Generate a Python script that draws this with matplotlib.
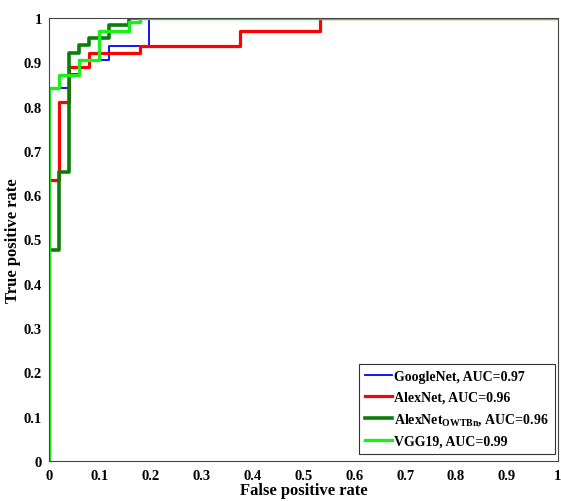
import numpy as np
import matplotlib
matplotlib.use('Agg')
import matplotlib.pyplot as plt

# ── Estilo ────────────────────────────────────────────────────────────────
plt.rcParams.update({
    'font.family': 'Liberation Serif',
    'font.weight': 'bold',
    'font.size': 10.5,
    'mathtext.fontset': 'custom',
    'mathtext.rm': 'Liberation Serif:bold',
    'mathtext.bf': 'Liberation Serif:bold',
})

# ── Datos ROC ────────────────────────────────────────────────────────────
fpr_googlenet = [0, 0, 0.039, 0.039, 0.059, 0.059, 0.118, 0.118, 0.197, 0.197, 1]
tpr_googlenet = [0, 0.842, 0.842, 0.873, 0.873, 0.905, 0.905, 0.937, 0.937, 1, 1]

fpr_alexnet = [0, 0, 0.02, 0.02, 0.039, 0.039, 0.079, 0.079, 0.178, 0.178,
               0.375, 0.375, 0.532, 0.532, 1]
tpr_alexnet = [0, 0.635, 0.635, 0.81, 0.81, 0.889, 0.889, 0.922, 0.922, 0.937,
               0.937, 0.97, 0.97, 1, 1]

fpr_owtbn = [0, 0, 0.02, 0.02, 0.039, 0.039, 0.059, 0.059, 0.079, 0.079,
             0.118, 0.118, 0.158, 0.158, 1]
tpr_owtbn = [0, 0.477, 0.477, 0.652, 0.652, 0.922, 0.922, 0.94, 0.94, 0.955,
             0.955, 0.984, 0.984, 1, 1]

fpr_vgg19 = [0, 0, 0.02, 0.02, 0.059, 0.059, 0.099, 0.099, 0.158, 0.158,
             0.178, 0.178, 1]
tpr_vgg19 = [0, 0.842, 0.842, 0.871, 0.871, 0.905, 0.905, 0.97, 0.97, 0.99,
             0.99, 1, 1]

labels = ['GoogleNet, AUC=0.97', 'AlexNet, AUC=0.96',
          r'AlexNet$_{\mathrm{OWTBn}}$, AUC=0.96', 'VGG19, AUC=0.99']
ticks = np.round(np.arange(0, 1.01, 0.1), 1)
tick_labels = ['0', '0.1', '0.2', '0.3', '0.4', '0.5', '0.6', '0.7', '0.8', '0.9', '1']

fig = plt.figure(figsize=(5.61, 5.02), dpi=100)
ax = fig.add_axes([0.0873, 0.0797, 0.907, 0.8825])

ax.plot(fpr_googlenet, tpr_googlenet, color='#0000FF', lw=1.3, label=labels[0])
ax.plot(fpr_alexnet, tpr_alexnet, color='#FF0000', lw=2.3, label=labels[1])
ax.plot(fpr_owtbn, tpr_owtbn, color='#0A7D0A', lw=2.6, label=labels[2])
ax.plot(fpr_vgg19, tpr_vgg19, color='#19F019', lw=2.4, label=labels[3])

ax.set_xlim(0, 1)
ax.set_ylim(0, 1)
ax.set_xticks(ticks)
ax.set_xticklabels(tick_labels)
ax.set_yticks(ticks)
ax.set_yticklabels(tick_labels)
ax.tick_params(axis='x', length=0, pad=6)
ax.tick_params(axis='y', length=0, pad=5)
for s in ax.spines.values():
    s.set_color('#444444')
    s.set_linewidth(0.8)

ax.set_xlabel('False positive rate', fontsize=12, fontweight='bold', labelpad=0)
ax.set_ylabel('True positive rate', fontsize=12, fontweight='bold', labelpad=2)

leg = ax.legend(loc='lower right', bbox_to_anchor=(0.994, 0.016),
                borderaxespad=0, fancybox=False, framealpha=1,
                edgecolor='#333333', fontsize=10, handlelength=1.9,
                handletextpad=0.15, labelspacing=0.55, borderpad=0.45)
leg.get_frame().set_linewidth(0.8)

fig.savefig('out.png', dpi=100)
